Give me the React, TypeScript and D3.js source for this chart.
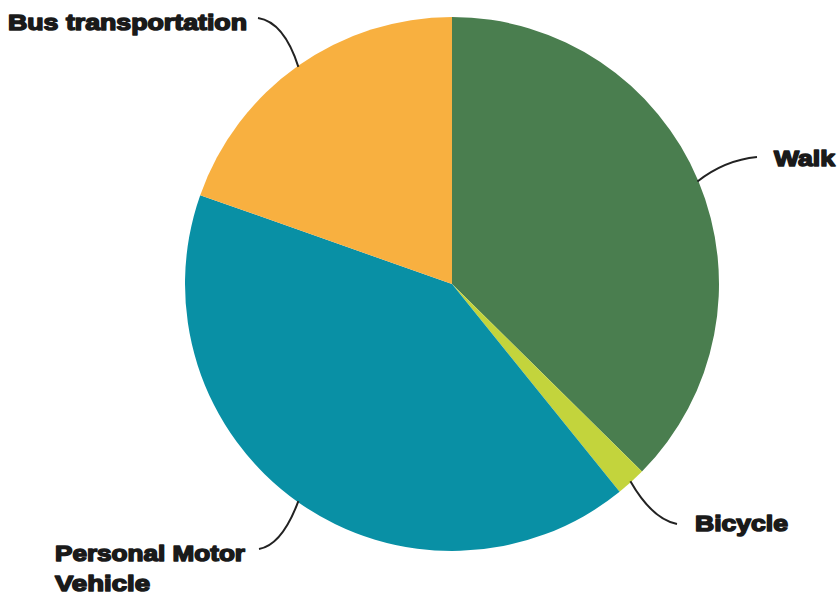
import React from "react";
import * as d3 from "d3";

const categories = ["Walk", "Bicycle", "Personal Motor Vehicle", "Bus transportation"];
const values = [37.4, 1.8, 41.2, 19.6];
const colors = ["#4a7e4f", "#c3d43c", "#0990a5", "#f8b040"];

const W = 837;
const H = 595;
const cx = 452;
const cy = 284;
const R = 267;

// label layout: lines of text, text anchor position, leader end point
const labelLines = [["Walk"], ["Bicycle"], ["Personal Motor", "Vehicle"], ["Bus transportation"]];
const labelPos = [
  { x: 774, y: 166, lx: 757, ly: 157, qx: 725, qy: 160, widths: [61] },
  { x: 695, y: 531, lx: 677, ly: 524, qx: 652, qy: 519, widths: [93] },
  { x: 55, y: 561, lx: 259, ly: 549, qx: 282, qy: 545, widths: [190, 95] },
  { x: 8, y: 30, lx: 258, ly: 18, qx: 284, qy: 22, widths: [239] },
];

export default function App() {
  const pie = d3.pie<number>().sort(null).value((d) => d).startAngle(0).endAngle(2 * Math.PI);
  const arcs = pie(values);
  const arc = d3.arc<d3.PieArcDatum<number>>().innerRadius(0).outerRadius(R);

  return (
    <div style={{ position: "absolute", left: 0, top: 0 }}>
      <svg width={W} height={H} style={{ display: "block", background: "#fff" }}>
        <g transform={`translate(${cx},${cy})`}>
          {arcs.map((a, i) => (
            <path key={i} d={arc(a) || ""} fill={colors[i]} />
          ))}
        </g>
        {arcs.map((a, i) => {
          const mid = (a.startAngle + a.endAngle) / 2;
          const ax = cx + Math.sin(mid) * (R - 1);
          const ay = cy - Math.cos(mid) * (R - 1);
          const p = labelPos[i];
          return (
            <path
              key={"l" + i}
              d={`M${p.lx},${p.ly} Q${p.qx},${p.qy} ${ax},${ay}`}
              fill="none"
              stroke="#222"
              strokeWidth={2}
            />
          );
        })}
        {labelLines.map((lines, i) => {
          const p = labelPos[i];
          return lines.map((t, j) => (
            <text
              key={"t" + i + "-" + j}
              x={p.x}
              y={p.y + j * 30}
              textLength={p.widths[j]}
              lengthAdjust="spacingAndGlyphs"
              fontFamily="'Liberation Sans', Arial, sans-serif"
              fontWeight="bold"
              fontSize={22}
              fill="#1a1a1a"
              stroke="#1a1a1a"
              strokeWidth={1.5}
              strokeLinejoin="round"
            >
              {t}
            </text>
          ));
        })}
      </svg>
    </div>
  );
}
